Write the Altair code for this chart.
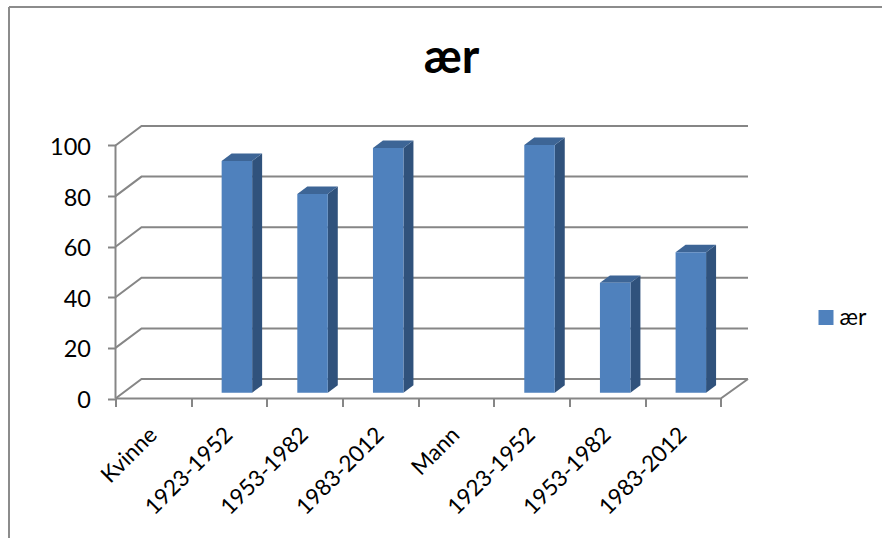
import altair as alt
import pandas as pd

# Chart content
categories = ["Kvinne", "1923-1952", "1953-1982", "1983-2012", "Mann", "1923-1952", "1953-1982", "1983-2012"]
values = [None, 91.6, 78.5, 96.7, None, 97.9, 43.4, 55.5]
series_name = "ær"
y_ticks = [0, 20, 40, 60, 80, 100]

# Pseudo-3D geometry, in data units (category index / axis value)
X_MAX, Y_MAX = 8.36, 107.7
WALL_DX, WALL_DY = 0.344, 7.7
BAR_LEFT, BAR_WIDTH, BAR_BASE = 0.403, 0.403, 2.3
BAR_DX, BAR_DY = 0.132, 2.96

FONT = "Lato"
GREY = "#868686"

x_scale = alt.Scale(domain=[0, X_MAX], nice=False, zero=False)
y_scale = alt.Scale(domain=[0, Y_MAX], nice=False, zero=False)

# Wall gridlines: a slanted run from the front edge, then along the back wall
grid_rows = []
for v in y_ticks:
    grid_rows += [
        {"line": f"g{v}", "i": 0, "x": 0, "y": v},
        {"line": f"g{v}", "i": 1, "x": WALL_DX, "y": v + WALL_DY},
        {"line": f"g{v}", "i": 2, "x": X_MAX, "y": v + WALL_DY},
    ]
# Front edge of the floor with its right-hand slant, and the vertical axis line
grid_rows += [
    {"line": "floor", "i": 0, "x": 0, "y": 0},
    {"line": "floor", "i": 1, "x": 8, "y": 0},
    {"line": "floor", "i": 2, "x": X_MAX, "y": WALL_DY},
    {"line": "axis", "i": 0, "x": 0, "y": 0},
    {"line": "axis", "i": 1, "x": 0, "y": 100},
]
grid_df = pd.DataFrame(grid_rows)

# Faces of each column
front_rows, side_rows, top_rows = [], [], []
for idx, v in enumerate(values):
    if v is None:
        continue
    left = idx + BAR_LEFT
    right = left + BAR_WIDTH
    base = BAR_BASE
    top = base + v
    front_rows.append({"x": left, "x2": right, "y": base, "y2": top, "series": series_name})
    side_rows += [
        {"bar": idx, "x": right, "y": top, "y2": base},
        {"bar": idx, "x": right + BAR_DX, "y": top + BAR_DY, "y2": base + BAR_DY},
    ]
    top_rows += [
        {"bar": idx, "x": left, "y": top, "y2": top},
        {"bar": idx, "x": left + BAR_DX, "y": top + BAR_DY, "y2": top},
        {"bar": idx, "x": right, "y": top + BAR_DY, "y2": top},
        {"bar": idx, "x": right + BAR_DX, "y": top + BAR_DY, "y2": top + BAR_DY},
    ]

label_df = pd.DataFrame(
    {"x": [i + 0.5 for i in range(len(categories))], "y": [-13.0] * len(categories), "label": categories}
)

# Both axes are declared once and shared by every data layer
x_axis = alt.Axis(
    values=list(range(9)), labels=False, title=None, grid=False, domain=False,
    tickColor=GREY, tickSize=8, tickWidth=2,
)
y_axis = alt.Axis(
    values=y_ticks, title=None, grid=False, domain=False, tickColor=GREY, tickSize=8, tickWidth=2,
    labelFont=FONT, labelFontSize=23.5, labelColor="#000000", labelPadding=17, labelOffset=2,
)
x_enc = alt.X("x:Q", scale=x_scale, axis=x_axis)
y_enc = alt.Y("y:Q", scale=y_scale, axis=y_axis)

grid = alt.Chart(grid_df).mark_line(color=GREY, strokeWidth=2).encode(
    x=x_enc, y=y_enc, detail="line:N", order="i:Q"
)
side = alt.Chart(pd.DataFrame(side_rows)).mark_area(color="#30527C").encode(
    x=x_enc, y=y_enc, y2="y2:Q", detail="bar:N"
)
top_face = alt.Chart(pd.DataFrame(top_rows)).mark_area(color="#3D6596").encode(
    x=x_enc, y=y_enc, y2="y2:Q", detail="bar:N"
)
front = alt.Chart(pd.DataFrame(front_rows)).mark_rect().encode(
    x=x_enc,
    x2="x2:Q",
    y=y_enc,
    y2="y2:Q",
    color=alt.Color(
        "series:N",
        scale=alt.Scale(domain=[series_name], range=["#4F81BD"]),
        legend=alt.Legend(
            title=None, orient="none", legendX=699, legendY=180, symbolType="square", symbolSize=225,
            symbolStrokeWidth=0, labelFont=FONT, labelFontSize=23, labelColor="#000000", labelOffset=2,
        ),
    ),
)
labels = alt.Chart(label_df).mark_text(
    angle=315, align="right", baseline="middle", font=FONT, fontSize=22.5, color="#000000"
).encode(x=x_enc, y=y_enc, text="label:N")

# Chart title, centred above the plot
title_mark = alt.Chart(pd.DataFrame({"t": [series_name]})).mark_text(
    font=FONT, fontSize=47, fontWeight="bold", color="#000000", align="center", baseline="middle"
).encode(x=alt.value(336), y=alt.value(-67), text="t:N")

# Outer frame of the chart area
frame_left = alt.Chart(pd.DataFrame({"a": [0]})).mark_rule(color="#8c8c8c", strokeWidth=2).encode(
    x=alt.value(-106.5), y=alt.value(-119), y2=alt.value(420)
)
frame_top = alt.Chart(pd.DataFrame({"a": [0]})).mark_rule(color="#8c8c8c", strokeWidth=2).encode(
    y=alt.value(-119), x=alt.value(-106.5), x2=alt.value(780)
)

chart = (
    alt.layer(frame_left, frame_top, grid, side, top_face, front, labels, title_mark)
    .properties(
        width=632.5,
        height=272.5,
        padding={"left": 115.5, "top": 126, "right": 134, "bottom": 139.5},
        autosize=alt.AutoSizeParams(type="none"),
        background="#ffffff",
    )
    .configure_view(stroke=None)
)

chart.save("out.html", embed_options={"renderer": "svg", "actions": False})
